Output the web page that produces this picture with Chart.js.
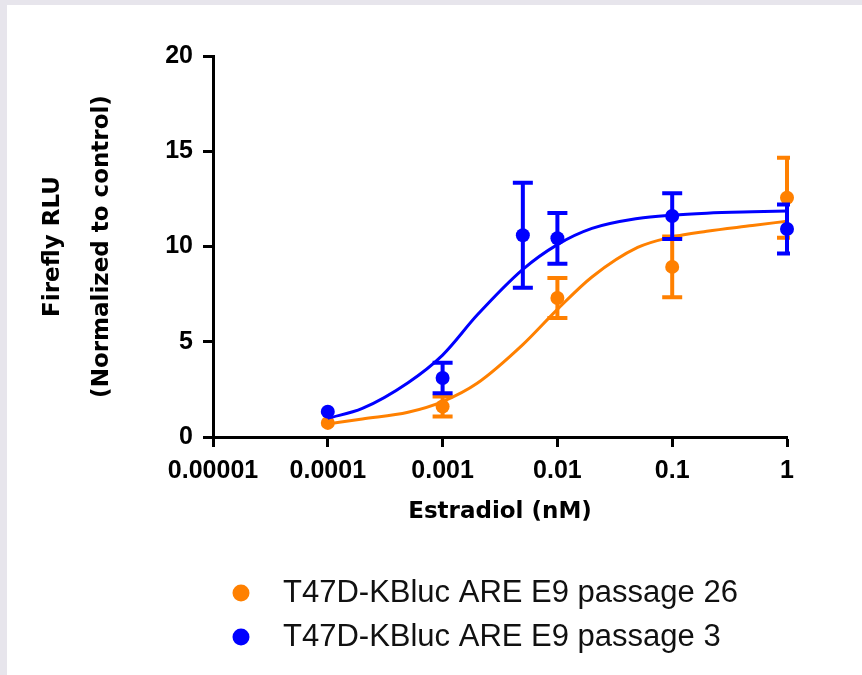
<!DOCTYPE html>
<html>
<head>
<meta charset="utf-8">
<script src="https://cdn.jsdelivr.net/npm/chart.js@4.4.0/dist/chart.umd.min.js"></script>
<style>
  html, body { margin: 0; padding: 0; background: #e7e5ec; }
  #wrap { position: absolute; left: 7px; top: 5px; width: 855px; height: 670px; background: #fff; }
</style>
</head>
<body>
<div id="wrap"><canvas id="doseChart" width="855" height="670"></canvas></div>
<script>
// estradiol doses (nM), means and error bars
const orangeDoses = [0.0001, 0.001, 0.01, 0.1, 1];
const orangeMeans = [0.74, 1.6, 7.3, 8.93, 12.56];
const orangeErrors = [0, 0.52, 1.05, 1.6, 2.1];

const blueDoses = [0.0001, 0.001, 0.005, 0.01, 0.1, 1];
const blueMeans = [1.33, 3.1, 10.59, 10.43, 11.6, 10.92];
const blueErrors = [0, 0.8, 2.76, 1.33, 1.2, 1.29];

// fitted curves
const curveDoses = [0.0001, 0.0002, 0.0005, 0.001, 0.002, 0.005, 0.01, 0.02, 0.05, 0.1, 0.2, 0.5, 1];
const orangeCurve = [0.68, 0.95, 1.3, 1.86, 2.82, 4.85, 6.7, 8.4, 9.95, 10.5, 10.8, 11.1, 11.33];
const blueCurve = [0.98, 1.5, 2.85, 4.3, 6.4, 8.8, 10.1, 10.95, 11.47, 11.65, 11.75, 11.82, 11.86];

const xTicks = [0.00001, 0.0001, 0.001, 0.01, 0.1, 1];
const xTickLabels = ['0.00001', '0.0001', '0.001', '0.01', '0.1', '1'];
const yTicks = [0, 5, 10, 15, 20];

const seriesLabels = ['T47D-KBluc ARE E9 passage 26', 'T47D-KBluc ARE E9 passage 3'];

const ORANGE = '#ff8000';
const BLUE = '#0000ff';
const tickFont = { family: '"Liberation Sans", Arial, sans-serif', size: 25, weight: 'bold' };
const titleFont = { family: '"DejaVu Sans", Tahoma, sans-serif', size: 23, weight: 'bold' };

function pairs(xs, ys) {
  return xs.map((x, i) => ({ x: x, y: ys[i] }));
}

// error bars, drawn just before each point dataset so the dots sit on top
const errorBars = {
  id: 'errorBars',
  beforeDatasetDraw(chart, args) {
    const ds = chart.data.datasets[args.index];
    if (!ds.errors) return;
    const ctx = chart.ctx;
    const xs = chart.scales.x;
    const ys = chart.scales.y;
    const area = chart.chartArea;
    ctx.save();
    ctx.beginPath();
    ctx.rect(0, 0, area.right + 3, chart.height);
    ctx.clip();
    ctx.strokeStyle = ds.borderColor;
    ctx.lineWidth = 4;
    ds.data.forEach((p, i) => {
      if (!ds.errors[i]) return;
      const px = xs.getPixelForValue(p.x);
      const top = ys.getPixelForValue(p.y + ds.errors[i]);
      const bot = ys.getPixelForValue(p.y - ds.errors[i]);
      ctx.beginPath();
      ctx.moveTo(px, top);
      ctx.lineTo(px, bot);
      ctx.moveTo(px - 10, top);
      ctx.lineTo(px + 10, top);
      ctx.moveTo(px - 10, bot);
      ctx.lineTo(px + 10, bot);
      ctx.stroke();
    });
    ctx.restore();
  }
};

// legend stacked under the plot, dot then label
const stackedLegend = {
  id: 'stackedLegend',
  afterDraw(chart) {
    const ctx = chart.ctx;
    const items = chart.data.datasets.filter(d => d.label);
    ctx.save();
    ctx.font = '31px "Liberation Sans", Arial, sans-serif';
    ctx.textBaseline = 'middle';
    items.forEach((ds, i) => {
      const y = 588 + i * 44;
      ctx.fillStyle = ds.backgroundColor;
      ctx.beginPath();
      ctx.arc(234, y, 8.5, 0, Math.PI * 2);
      ctx.fill();
      ctx.fillStyle = '#111';
      ctx.fillText(ds.label, 276, y);
    });
    ctx.restore();
  }
};

const ctx = document.getElementById('doseChart').getContext('2d');
new Chart(ctx, {
  type: 'scatter',
  data: {
    datasets: [{
      label: seriesLabels[0],
      data: pairs(orangeDoses, orangeMeans),
      errors: orangeErrors,
      backgroundColor: ORANGE,
      borderColor: ORANGE,
      pointRadius: 7,
      pointBorderWidth: 0,
      showLine: false,
      clip: false,
      order: 3
    }, {
      data: pairs(curveDoses, orangeCurve),
      borderColor: ORANGE,
      borderWidth: 3,
      pointRadius: 0,
      showLine: true,
      cubicInterpolationMode: 'monotone',
      clip: false,
      order: 4
    }, {
      label: seriesLabels[1],
      data: pairs(blueDoses, blueMeans),
      errors: blueErrors,
      backgroundColor: BLUE,
      borderColor: BLUE,
      pointRadius: 7,
      pointBorderWidth: 0,
      showLine: false,
      clip: false,
      order: 1
    }, {
      data: pairs(curveDoses, blueCurve),
      borderColor: BLUE,
      borderWidth: 3,
      pointRadius: 0,
      showLine: true,
      cubicInterpolationMode: 'monotone',
      clip: false,
      order: 2
    }]
  },
  options: {
    responsive: false,
    animation: false,
    events: [],
    layout: {
      padding: { left: 0, right: 75, top: 51, bottom: 149 }
    },
    plugins: {
      legend: { display: false },
      tooltip: { enabled: false }
    },
    scales: {
      x: {
        type: 'logarithmic',
        min: 0.00001,
        max: 1,
        afterBuildTicks: function (scale) {
          scale.ticks = xTicks.map(v => ({ value: v }));
        },
        afterFit: function (scale) {
          scale.height = 89;
        },
        ticks: {
          autoSkip: false,
          maxRotation: 0,
          padding: 9,
          color: '#000',
          font: tickFont,
          callback: function (value, index) {
            return xTickLabels[index];
          }
        },
        grid: {
          drawOnChartArea: false,
          tickLength: 10,
          tickWidth: 3,
          tickColor: '#000'
        },
        border: { color: '#000', width: 3 },
        title: {
          display: true,
          text: 'Estradiol (nM)',
          color: '#000',
          font: titleFont,
          padding: 0
        }
      },
      y: {
        min: 0,
        max: 20,
        afterBuildTicks: function (scale) {
          scale.ticks = yTicks.map(v => ({ value: v }));
        },
        afterFit: function (scale) {
          scale.width = 206;
        },
        ticks: {
          padding: 10,
          color: '#000',
          font: tickFont
        },
        grid: {
          drawOnChartArea: false,
          tickLength: 10,
          tickWidth: 3,
          tickColor: '#000'
        },
        border: { color: '#000', width: 3 },
        title: {
          display: true,
          text: ['Firefly RLU', '(Normalized to control)'],
          color: '#000',
          font: { family: titleFont.family, size: 23, weight: 'bold', lineHeight: '49px' },
          padding: { top: 21.5, bottom: 0 }
        }
      }
    }
  },
  plugins: [errorBars, stackedLegend]
});
</script>
</body>
</html>
